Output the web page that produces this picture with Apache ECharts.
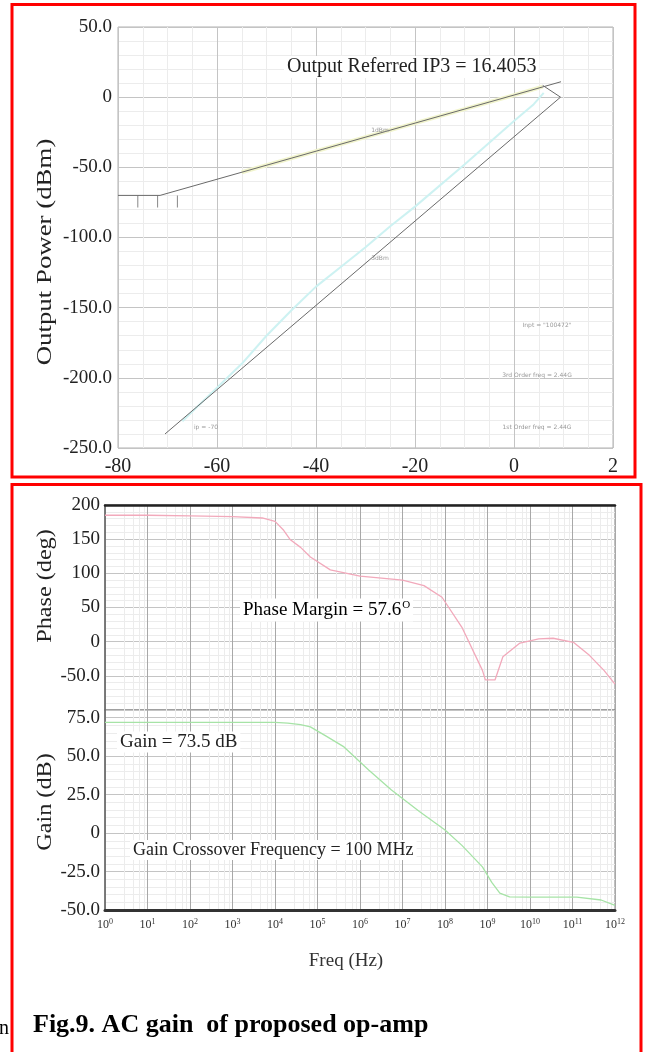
<!DOCTYPE html>
<html>
<head>
<meta charset="utf-8">
<script src="https://cdn.jsdelivr.net/npm/echarts@6/dist/echarts.min.js"></script>
<style>
html, body { margin: 0; padding: 0; background: #fff; }
#main { width: 646px; height: 1052px; }
</style>
</head>
<body>
<div id="main"></div>
<script>
// ---- IP3 plot: input power (dBm) -> output power (dBm)
var fundIn = [-80, -71.5, 9.5];
var fundOut = [-70, -70, 11];
var im3In = [-70.5, 9.4, 5.8];
var im3Out = [-240, 0, 8.4];
var simFundIn = [-55, -30, 0, 5.8];
var simFundOut = [-53.5, -28.5, 1.5, 7.5];
var simIm3In = [-67, -60, -55, -50, -45, -40, -35, -30, -25, -20, -10, 0, 4, 6];
var simIm3Out = [-231, -207, -190, -170, -152, -135, -121, -107, -92, -78, -48, -17, -5, 3];
var floorTickIn = [-76, -72, -68];
var floorLevel = -70;
var ip3XTickVals = [-80, -60, -40, -20, 0, 20];
var ip3XTickText = ['-80', '-60', '-40', '-20', '0', '2'];

// ---- AC response
var phaseFreq = [1, 10, 100, 1e3, 5e3, 1e4, 1.6e4, 2.3e4, 4e4, 6.8e4, 2e5, 1e6, 3.2e6, 1e7, 3.2e7, 8.5e7,
  2.5e8, 7.6e8, 8.9e8, 1.5e9, 2.3e9, 5.8e9, 1.6e10, 3.5e10, 1.05e11, 2.5e11, 5.5e11, 1e12];
var phaseDeg = [185, 185, 184, 183, 181, 176, 163, 149, 138, 124, 105, 96, 93, 90, 82, 65,
  21, -42, -56, -56, -22, -2, 4, 5, -1, -20, -42, -62];
var gainFreq = [1, 10, 100, 1e3, 1e4, 2e4, 4e4, 6.8e4, 1.6e5, 4.2e5, 1.6e6, 5.5e6, 2.5e7, 1e8,
  2.5e8, 7.6e8, 1.26e9, 1.95e9, 3.3e9, 1e10, 1.26e11, 4.7e11, 1e12];
var gainDb = [72, 72, 72, 72, 72, 71.5, 70.5, 69, 63, 56, 41, 28, 14, 2,
  -8, -22, -32, -39, -41.5, -41.6, -41.6, -43.5, -47];

var serif = "'Times New Roman', 'Liberation Serif', serif";

function zip(xs, ys) {
  return xs.map(function (x, i) { return [x, ys[i]]; });
}

var myChart = echarts.init(document.getElementById('main'));

var minorGrid = { show: true, lineStyle: { color: '#ececec', width: 1 } };
var majorGrid = { show: true, lineStyle: { color: '#c4c4c4', width: 1 } };

function decFmt(v) {
  if (v === 0) return '0';
  return v.toFixed(1);
}

// annotation text on a white patch, like the simulator's labels
function note(x, y, text, size) {
  return {
    type: 'text', x: x, y: y, z: 50,
    style: {
      text: text, fontFamily: serif, fontSize: size, fill: '#222',
      textVerticalAlign: 'middle', backgroundColor: '#fff', padding: [1, 3]
    }
  };
}

function tiny(x, y, text) {
  return {
    type: 'text', x: x, y: y, z: 50,
    style: {
      text: text, fontFamily: 'DejaVu Sans', fontSize: 6, fill: '#999',
      textAlign: 'center', textVerticalAlign: 'middle'
    }
  };
}

var option = {
  animation: false,
  backgroundColor: '#fff',
  grid: [
    { left: 118, top: 27, width: 495, height: 421, show: true, borderColor: '#b0b0b0', borderWidth: 1 },
    { left: 105, top: 505, width: 510, height: 205, show: true, borderColor: '#808080', borderWidth: 1 },
    { left: 105, top: 710, width: 510, height: 200, show: true, borderColor: '#808080', borderWidth: 1 }
  ],
  xAxis: [
    {
      gridIndex: 0, type: 'value', min: -80, max: 20, interval: 20,
      axisLine: { show: false }, axisTick: { show: false },
      axisLabel: {
        margin: 9, fontFamily: serif, fontSize: 20, color: '#222',
        formatter: function (v) { return ip3XTickText[ip3XTickVals.indexOf(v)]; }
      },
      splitLine: majorGrid,
      minorTick: { show: false, splitNumber: 4 },
      minorSplitLine: minorGrid
    },
    {
      gridIndex: 1, type: 'log', logBase: 10, min: 1, max: 1e12, interval: 1, position: 'top',
      axisLine: { show: true, onZero: false, lineStyle: { color: '#222', width: 2.5 } },
      axisTick: { show: false }, axisLabel: { show: false },
      splitLine: { show: true, lineStyle: { color: '#a8a8a8', width: 1 } },
      minorTick: { show: false, splitNumber: 5 },
      minorSplitLine: minorGrid
    },
    {
      gridIndex: 2, type: 'log', logBase: 10, min: 1, max: 1e12, interval: 1,
      axisLine: { show: true, onZero: false, lineStyle: { color: '#333', width: 3 } },
      axisTick: { show: false },
      axisLabel: {
        margin: 8, color: '#333',
        formatter: function (v) {
          var n = Math.round(Math.log(v) / Math.LN10);
          return '{b|10}{s|' + n + '}';
        },
        rich: {
          b: { fontFamily: serif, fontSize: 12, color: '#333' },
          s: { fontFamily: serif, fontSize: 8, color: '#333', padding: [0, 0, 6, 0] }
        }
      },
      splitLine: { show: true, lineStyle: { color: '#a8a8a8', width: 1 } },
      minorTick: { show: false, splitNumber: 5 },
      minorSplitLine: minorGrid,
      name: 'Freq (Hz)', nameLocation: 'middle', nameGap: 42,
      nameTextStyle: { fontFamily: serif, fontSize: 19, color: '#333', padding: [0, 28, 0, 0] }
    }
  ],
  yAxis: [
    {
      gridIndex: 0, type: 'value', min: -250, max: 50, interval: 50,
      axisLine: { show: false }, axisTick: { show: false },
      axisLabel: { margin: 6, fontFamily: serif, fontSize: 19, color: '#222', formatter: decFmt },
      splitLine: majorGrid,
      minorTick: { show: false, splitNumber: 5 },
      minorSplitLine: minorGrid
    },
    {
      gridIndex: 1, type: 'value', min: -100, max: 200, interval: 50,
      axisLine: { show: true, onZero: false, lineStyle: { color: '#666', width: 1.5 } },
      axisTick: { show: false },
      axisLabel: {
        margin: 5, fontFamily: serif, fontSize: 19, color: '#222',
        formatter: function (v) {
          if (v === -100) return '';
          if (v < 0) return v.toFixed(1);
          return String(v);
        }
      },
      splitLine: majorGrid,
      minorTick: { show: false, splitNumber: 5 },
      minorSplitLine: minorGrid
    },
    {
      gridIndex: 2, type: 'value', min: -50, max: 80, interval: 25,
      axisLine: { show: true, onZero: false, lineStyle: { color: '#666', width: 1.5 } },
      axisTick: { show: false },
      axisLabel: {
        margin: 5, fontFamily: serif, fontSize: 19, color: '#222',
        formatter: function (v) {
          if (v % 25 !== 0) return '';
          return decFmt(v);
        }
      },
      splitLine: majorGrid,
      minorTick: { show: false, splitNumber: 5 },
      minorSplitLine: minorGrid
    }
  ],
  series: [
    {
      name: 'sim fund', type: 'line', xAxisIndex: 0, yAxisIndex: 0, symbol: 'none',
      data: zip(simFundIn, simFundOut),
      lineStyle: { color: '#f1f4cc', width: 4 }, z: 2
    },
    {
      name: 'sim im3', type: 'line', xAxisIndex: 0, yAxisIndex: 0, symbol: 'none',
      data: zip(simIm3In, simIm3Out),
      lineStyle: { color: '#cdf2f2', width: 2 }, z: 2
    },
    {
      name: '1st', type: 'line', xAxisIndex: 0, yAxisIndex: 0, symbol: 'none',
      data: zip(fundIn, fundOut),
      lineStyle: { color: '#6a6a6a', width: 1 }, z: 3
    },
    {
      name: '3rd', type: 'line', xAxisIndex: 0, yAxisIndex: 0, symbol: 'none',
      data: zip(im3In, im3Out),
      lineStyle: { color: '#6a6a6a', width: 1 }, z: 3
    },
    {
      name: 'floor ticks', type: 'scatter', xAxisIndex: 0, yAxisIndex: 0,
      symbol: 'rect', symbolSize: [1, 12], symbolOffset: [0, 6],
      itemStyle: { color: '#6a6a6a' },
      data: floorTickIn.map(function (x) { return [x, floorLevel]; }), z: 3
    },
    {
      name: 'phase', type: 'line', xAxisIndex: 1, yAxisIndex: 1, symbol: 'none',
      data: zip(phaseFreq, phaseDeg),
      lineStyle: { color: '#f2a9bb', width: 1.3 }
    },
    {
      name: 'gain', type: 'line', xAxisIndex: 2, yAxisIndex: 2, symbol: 'none',
      data: zip(gainFreq, gainDb),
      lineStyle: { color: '#a6e3a6', width: 1.3 }
    }
  ],
  graphic: [
    { type: 'rect', z: 100, shape: { x: 12, y: 4.5, width: 623, height: 472.5 }, style: { fill: 'none', stroke: '#ff0000', lineWidth: 3 } },
    { type: 'rect', z: 100, shape: { x: 12, y: 484.5, width: 629, height: 600 }, style: { fill: 'none', stroke: '#ff0000', lineWidth: 3 } },
    note(284, 67, 'Output Referred IP3 = 16.4053', 20),
    { type: 'text', x: 45, y: 252, z: 50, rotation: Math.PI / 2, scaleX: 1.22, style: { text: 'Output Power (dBm)', fontFamily: serif, fontSize: 22, fill: '#222', textAlign: 'center', textVerticalAlign: 'middle' } },
    tiny(380, 130, '1dBm'),
    tiny(380, 258, '3dBm'),
    tiny(206, 427, 'ip = -70'),
    tiny(547, 325, 'Inpt = "100472"'),
    tiny(537, 375, '3rd Order freq = 2.44G'),
    tiny(537, 427, '1st Order freq = 2.44G'),
    { type: 'text', x: 45, y: 586, z: 50, rotation: Math.PI / 2, scaleX: 1.1, style: { text: 'Phase (deg)', fontFamily: serif, fontSize: 22, fill: '#222', textAlign: 'center', textVerticalAlign: 'middle' } },
    { type: 'text', x: 45, y: 802, z: 50, rotation: Math.PI / 2, scaleX: 1.1, style: { text: 'Gain (dB)', fontFamily: serif, fontSize: 22, fill: '#222', textAlign: 'center', textVerticalAlign: 'middle' } },
    {
      type: 'text', x: 240, y: 610, z: 50,
      style: {
        text: '{a|Phase Margin = 57.6}{s|O}', textVerticalAlign: 'middle',
        backgroundColor: '#fff', padding: [1, 3],
        rich: {
          a: { fontFamily: serif, fontSize: 19, color: '#222' },
          s: { fontFamily: serif, fontSize: 11, color: '#222', padding: [0, 0, 10, 1] }
        }
      }
    },
    note(117, 742, 'Gain = 73.5 dB', 19),
    note(130, 850, 'Gain Crossover Frequency = 100 MHz', 18),
    { type: 'text', x: 33, y: 1025, z: 50, style: { text: 'Fig.9. AC gain  of proposed op-amp', fontFamily: serif, fontSize: 26, fontWeight: 'bold', fill: '#000', textVerticalAlign: 'middle' } },
    { type: 'text', x: -1, y: 1029, z: 50, style: { text: 'n', fontFamily: serif, fontSize: 20, fill: '#000', textVerticalAlign: 'middle' } }
  ]
};

myChart.setOption(option);
</script>
</body>
</html>
